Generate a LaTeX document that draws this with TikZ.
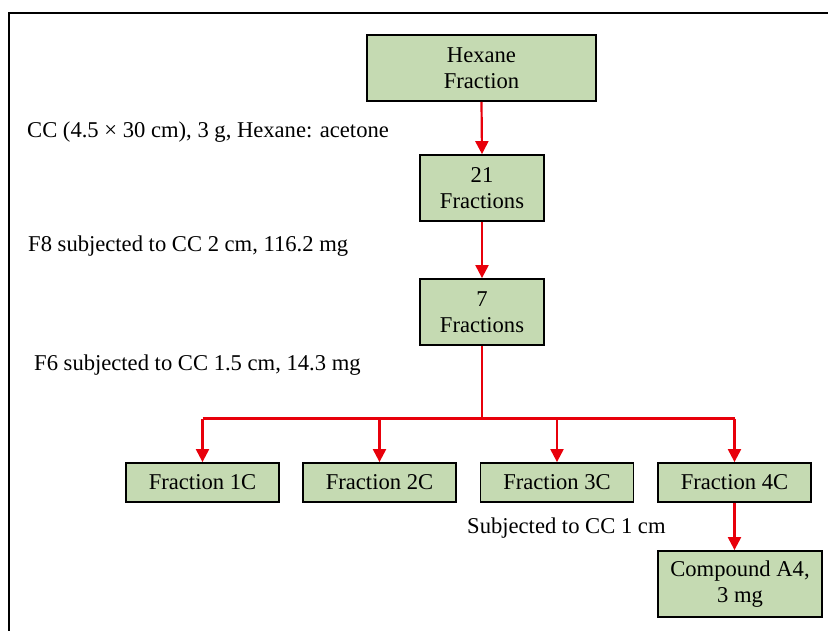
\documentclass[tikz,border=0pt]{standalone}
\usepackage{fontspec}
\setmainfont{Liberation Serif}
\usetikzlibrary{arrows.meta}
\definecolor{boxgreen}{HTML}{C5DAB2}
\definecolor{arrred}{HTML}{E8000B}
\tikzset{
  box/.style={draw=black, line width=1.8pt, fill=boxgreen, inner sep=0pt, align=center,
    font=\fontsize{22.6}{26}\selectfont},
  lbl/.style={anchor=west, inner sep=0pt, font=\fontsize{22.6}{26}\selectfont},
  arr/.style={draw=arrred, line width=2.2pt, -{Triangle[length=13pt,width=13pt]}},
  ln/.style={draw=arrred, line width=2.2pt}
}
\begin{document}
\begin{tikzpicture}[x=1pt,y=-1pt]
\useasboundingbox (0,0) rectangle (828,631);
\draw[line width=2pt] (9,660) -- (9,13) -- (850,13);
% boxes
\node[box, minimum width=229pt, minimum height=66pt] (hex) at (481.5,68) {Hexane\\Fraction};
\node[box, minimum width=124pt, minimum height=66pt] (f21) at (482,188) {21\\Fractions};
\node[box, minimum width=124pt, minimum height=66pt] (f7) at (482,312) {7\\Fractions};
\node[box, minimum width=153pt, minimum height=39pt] (c1) at (202.5,482.5) {Fraction 1C};
\node[box, minimum width=153pt, minimum height=39pt] (c2) at (379.5,482.5) {Fraction 2C};
\node[box, minimum width=153pt, minimum height=39pt] (c3) at (557,482.5) {Fraction 3C};
\node[box, minimum width=153pt, minimum height=39pt] (c4) at (734.5,482.5) {Fraction 4C};
\node[box, minimum width=164pt, minimum height=66pt] (cmp) at (740,584) {Compound A4,\\3 mg};
% labels
\node[lbl] (l1) at (27,132) {CC (4.5 × 30 cm), 3 g, Hexane: acetone};
\node[lbl] (l2) at (28,246) {F8 subjected to CC 2 cm, 116.2 mg};
\node[lbl] (l3) at (34,365) {F6 subjected to CC 1.5 cm, 14.3 mg};
\node[lbl] (l4) at (467,528) {Subjected to CC 1 cm};
% connectors
\draw[arr] (hex.south) -- (f21.north);
\draw[arr] (f21.south) -- (f7.north);
\coordinate (br) at (482,418.5);
\draw[ln] (f7.south) -- (br);
\draw[ln] (c1.north |- br) -- (c4.north |- br);
\draw[arr] (c1.north |- br) -- (c1.north);
\draw[arr] (c2.north |- br) -- (c2.north);
\draw[arr] (c3.north |- br) -- (c3.north);
\draw[arr] (c4.north |- br) -- (c4.north);
\draw[arr] (c4.south) -- (c4.south |- cmp.north);
\end{tikzpicture}
\end{document}
